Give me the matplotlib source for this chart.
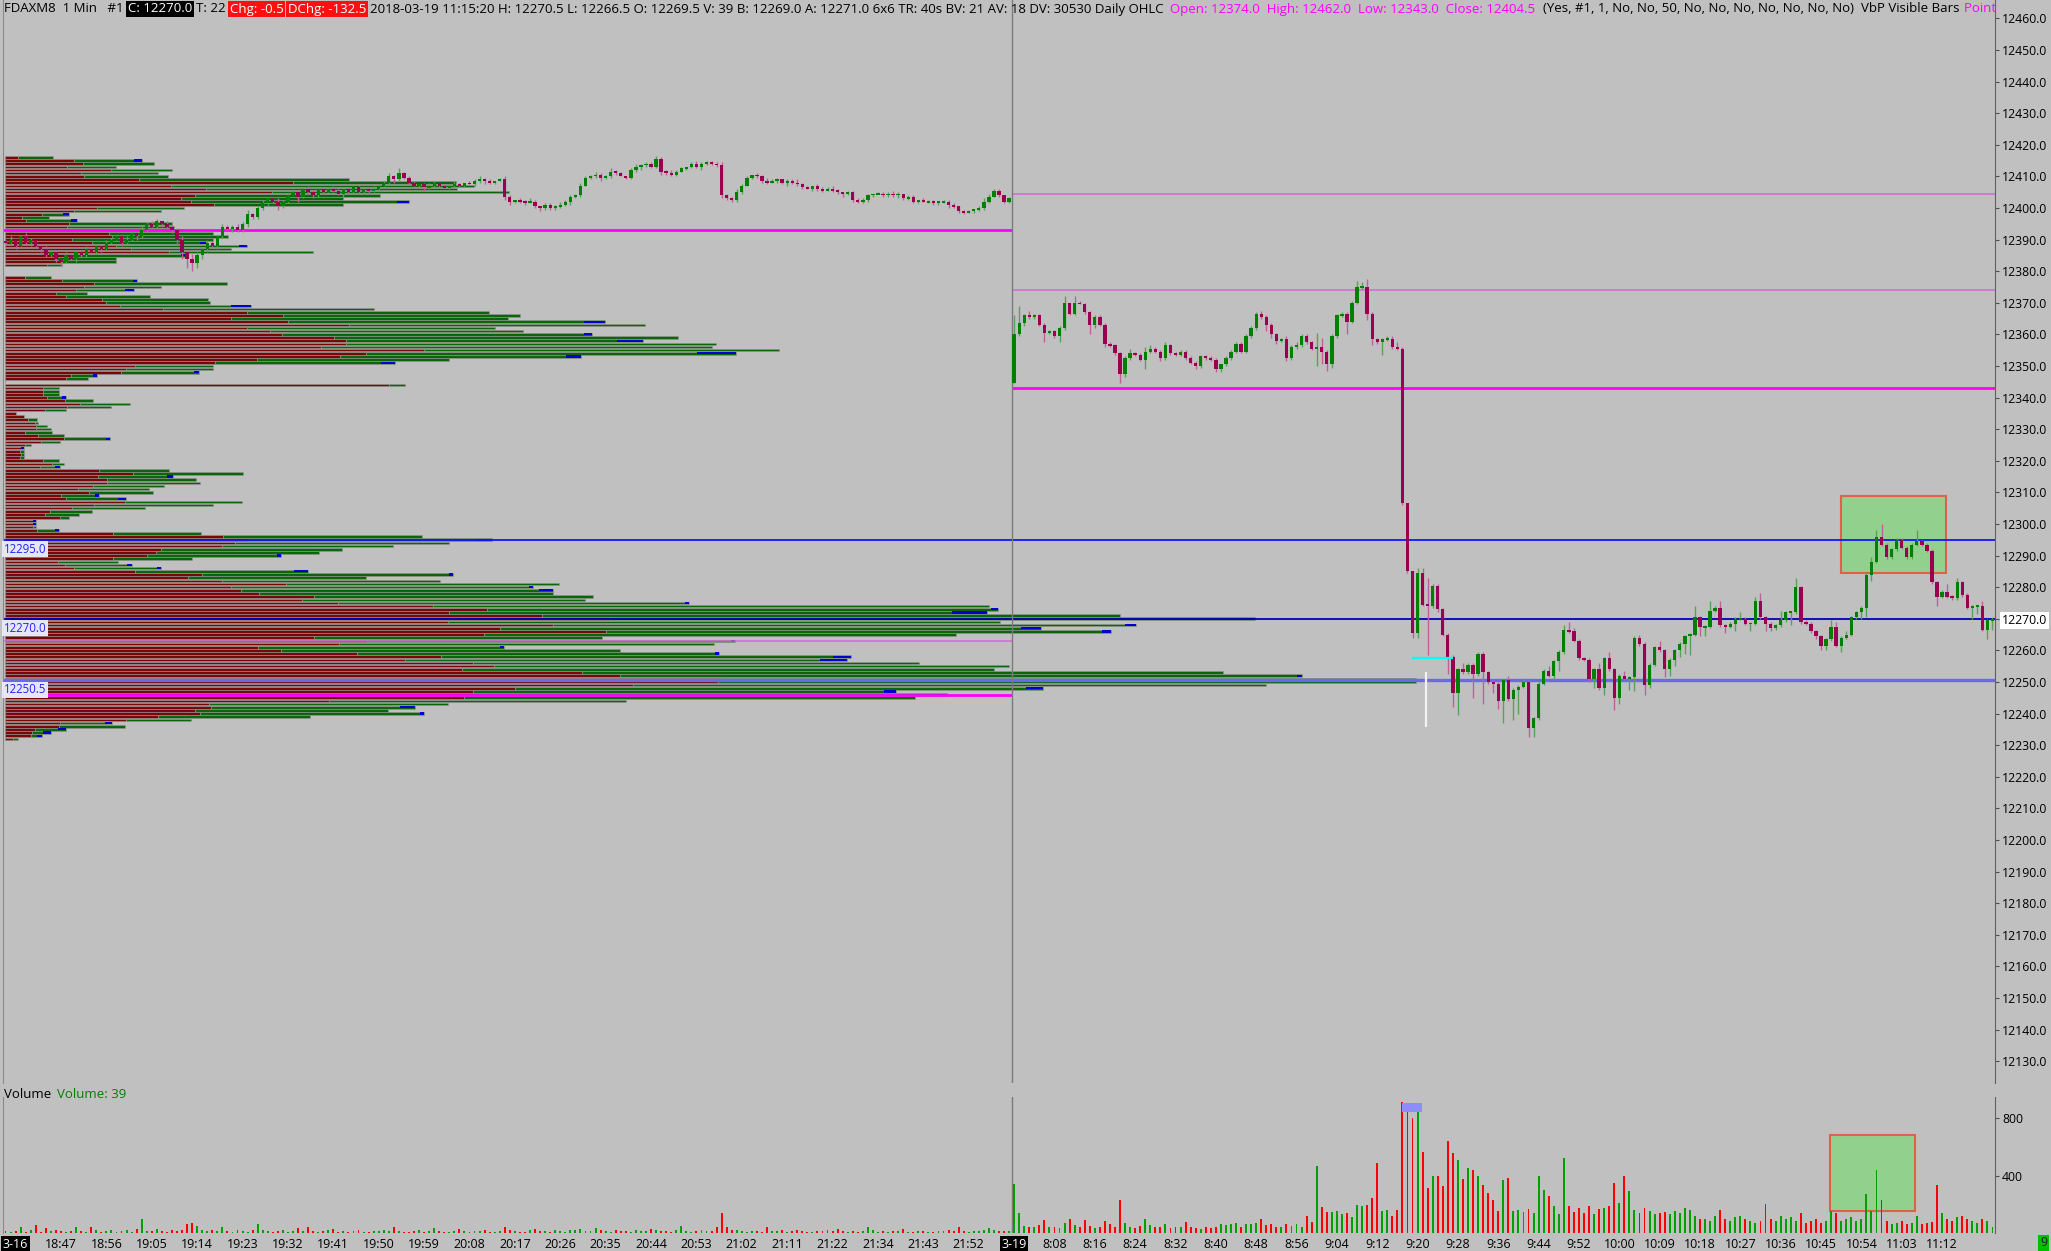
import matplotlib
matplotlib.use('Agg')
import matplotlib.pyplot as plt
from matplotlib.patches import Rectangle
import numpy as np

plt.rcParams['font.family'] = ['Open Sans', 'DejaVu Sans']

BG = '#c0c0c0'
UP_BODY, DN_BODY = '#008000', '#990050'
UP_WICK, DN_WICK = '#5aa05a', '#c0609a'
VOL_UP, VOL_DN = '#00a000', '#ff0000'
FS = 8.8
HEAD_FS = 9.5
TIME_FS = 9.0

# ---- session 1: 3-16 evening, 1 min bars (closes, wicks in 0.5 ticks) ----
s1_open = 12389.5
s1_close = [
    12389, 12390, 12388, 12391, 12389, 12390, 12388,
    12387, 12385, 12386, 12384, 12383, 12385, 12384,
    12386, 12385, 12387, 12386, 12388, 12387,
    12389, 12390, 12391, 12389, 12390, 12392, 12391,
    12393, 12395, 12394, 12396, 12395, 12394, 12393,
    12390, 12386, 12384, 12382.5, 12385,
    12387, 12389, 12388, 12391, 12394,
    12393.5, 12394, 12393, 12395, 12398, 12397,
    12400, 12401.5, 12403, 12402, 12400.5, 12402,
    12404, 12405, 12403.5, 12406, 12405, 12404, 12406,
    12405, 12406, 12405.5, 12404.5, 12406, 12405, 12406.5, 12405, 12406, 12405.5, 12406, 12407,
    12408, 12410, 12409, 12411, 12409.5,
    12408, 12407, 12407.5, 12406.5, 12407, 12408, 12407, 12406.5, 12407, 12407.5, 12407, 12408, 12407.5,
    12408.5, 12409, 12408.5, 12408, 12408.5, 12409,
    12403.5,
    12402, 12402.5, 12402, 12401.5, 12402,
    12400.5, 12400, 12401, 12400, 12400.5, 12401,
    12402, 12403.5, 12404, 12407,
    12409.5, 12410, 12410.5, 12409.5, 12410,
    12411.5, 12411, 12410, 12409.5,
    12412, 12413, 12413.5, 12414, 12413, 12415.5,
    12411.5, 12411, 12410.5, 12411.5,
    12412.5, 12413, 12414, 12413,
    12414, 12414.5, 12414, 12413.5,
    12404, 12403, 12402.5, 12405, 12407,
    12409.5, 12410.5, 12410,
    12408.5, 12408, 12408.5, 12409,
    12408, 12408.5, 12408, 12407.5,
    12406.5, 12406, 12407,
    12406, 12405.5, 12406, 12405.5,
    12405, 12404.5, 12405,
    12402.5, 12402, 12402.5,
    12404, 12404.5,
    12404.5, 12404, 12404.5, 12404, 12404.5,
    12403, 12403.5,
    12402, 12402.5, 12402, 12402, 12401.5, 12402, 12402,
    12401, 12400.5,
    12399, 12398.5, 12399, 12399.5,
    12400, 12402, 12403.5, 12405.5, 12404, 12402, 12403,
]
s1_up = [
    1, 2, 0, 1, 2, 1, 0, 1, 2, 1,  1, 0, 2, 1, 1, 0, 2, 1, 1, 0,
    2, 1, 1, 0, 2, 1, 1, 3, 1, 2,  1, 0, 2, 1, 1, 2, 1, 3, 2, 1,
    2, 1, 0, 2, 1, 1, 2, 1, 3, 1,  1, 2, 1, 0, 2, 1, 1, 2, 1, 1,
    2, 1, 1, 0, 1, 2, 1, 0, 1, 1,  1, 0, 1, 2, 1, 1, 2, 1, 3, 1,
    1, 1, 0, 1, 2, 1, 0, 1, 1, 2,  1, 0, 1, 1, 2, 1, 1, 0, 1, 2,
    1, 0, 1, 1, 2, 1, 0, 1, 1, 1,  2, 1, 1, 1, 2, 1, 1, 2, 1, 1,
    2, 1, 1, 0, 1, 2, 1, 1, 1, 2,  1, 1, 2, 1, 1, 0, 1, 2, 1, 1,
    1, 1, 2, 1, 1, 2, 1, 1, 0, 1,  1, 2, 1, 1, 0, 1, 1, 2, 1, 1,
    0, 1, 1, 1, 2, 1, 0, 1, 1, 1,  1, 1, 0, 1, 1, 1, 2, 1, 0, 1,
    1, 0, 1, 1, 1, 0, 1, 1, 1, 0,  1, 1, 0, 1, 2, 2, 1, 1, 0, 1,
]
s1_dn = [
    1, 1, 2, 0, 1, 2, 1, 2, 1, 1,  2, 3, 1, 1, 2, 1, 1, 0, 1, 2,
    1, 1, 0, 2, 1, 1, 2, 1, 1, 0,  1, 2, 1, 2, 3, 4, 6, 5, 3, 2,
    2, 1, 2, 1, 1, 2, 1, 1, 2, 1,  1, 1, 2, 1, 2, 1, 1, 0, 3, 1,
    1, 2, 1, 1, 0, 1, 1, 2, 1, 1,  1, 1, 2, 1, 1, 0, 1, 2, 1, 1,
    1, 0, 1, 2, 1, 1, 1, 0, 1, 1,  1, 1, 0, 1, 1, 2, 1, 1, 0, 2,
    2, 1, 1, 1, 0, 1, 2, 1, 1, 1,  1, 1, 2, 1, 1, 0, 1, 1, 2, 1,
    1, 1, 0, 1, 1, 1, 2, 1, 1, 1,  2, 1, 1, 1, 0, 1, 1, 1, 2, 1,
    1, 1, 2, 1, 1, 1, 1, 0, 1, 1,  1, 1, 0, 1, 1, 2, 1, 1, 1, 0,
    1, 1, 1, 0, 1, 1, 2, 1, 1, 1,  1, 1, 1, 0, 1, 1, 1, 2, 1, 1,
    1, 1, 0, 1, 1, 1, 1, 2, 1, 1,  1, 0, 1, 1, 1, 1, 0, 1, 1, 1,
]
vol_s1 = [
    12, 8, 15, 40, 10, 18, 55, 9, 35, 14,   20, 11, 7, 16, 45, 12, 9, 40, 18, 10,
    14, 22, 9, 13, 18, 10, 25, 95, 16, 12,  30, 15, 10, 20, 14, 24, 65, 70, 50, 18,
    12, 20, 15, 40, 11, 9, 22, 14, 10, 18,  65, 20, 12, 9, 15, 24, 10, 14, 35, 11,
    40, 16, 9, 12, 20, 30, 8, 14, 10, 12,   18, 9, 7, 15, 11, 20, 14, 45, 12, 8,
    10, 16, 22, 9, 12, 35, 14, 10, 8, 15,   30, 12, 9, 14, 11, 18, 10, 8, 16, 45,
    20, 14, 10, 9, 18, 30, 12, 16, 9, 22,   14, 10, 24, 18, 28, 16, 12, 35, 20, 14,
    10, 18, 12, 16, 9, 20, 14, 11, 30, 22,  15, 12, 9, 18, 50, 14, 10, 12, 20, 16,
    12, 40, 140, 45, 18, 22, 15, 10, 14, 12, 9, 45, 16, 11, 20, 8, 12, 18, 14, 10,
    9, 15, 12, 20, 11, 30, 14, 10, 16, 9,   12, 45, 18, 10, 14, 9, 12, 16, 25, 10,
    8, 12, 15, 10, 9, 14, 11, 18, 12, 40,   16, 10, 14, 12, 20, 35, 18, 11, 14, 16,
]

# ---- session 2: 3-19 day session ----
s2_open = 12344.5
s2_close = [
    12360, 12363.5, 12366, 12365.5, 12366, 12363, 12360.5, 12361, 12359.5, 12362,
    12370, 12366.5, 12370, 12369.5, 12367, 12363, 12365.5, 12363, 12357, 12356.5,
    12354, 12347.5, 12352.5, 12354, 12353.5, 12352, 12354.5, 12355.5, 12354.5, 12352.5,
    12356.5, 12354, 12353.5, 12354.5, 12352.5, 12351, 12350, 12353, 12352.5, 12352,
    12349, 12350.5, 12352.5, 12354.5, 12357, 12354.5, 12359.5, 12362, 12366.5, 12365.5,
    12363, 12360, 12358, 12358.5, 12352.5, 12356, 12356.5, 12359.5, 12357.5, 12355.5,
    12356, 12354.5, 12350.5, 12359.5, 12366, 12366.5, 12364, 12370, 12375, 12375,
    12366.5, 12358.5, 12357.5, 12358.5, 12358.5, 12356, 12355.5, 12306.5, 12285, 12265.5,
    12284.5, 12274.5, 12274, 12280.5, 12273, 12265, 12258, 12246.5, 12254, 12253,
    12255.5, 12252.5, 12259, 12253, 12250, 12249.5, 12244, 12250.5, 12244.5, 12247.5,
    12248.5, 12250, 12235.5, 12238.5, 12249.5, 12253.5, 12252, 12256.5, 12259.5, 12266.5,
    12266, 12263, 12257.5, 12257, 12251, 12254, 12248, 12257.5, 12254, 12245,
    12252, 12251, 12251.5, 12264, 12262, 12249, 12255.5, 12261, 12260, 12254,
    12257, 12260, 12262, 12264.5, 12265, 12270.5, 12267.5, 12267.5, 12272.5, 12273.5,
    12268, 12267.5, 12268.5, 12270, 12270, 12268.5, 12268.5, 12275.5, 12270.5, 12268.5,
    12267, 12268, 12269.5, 12272, 12272, 12280, 12269, 12268.5, 12266, 12264.5,
    12261.5, 12263.5, 12267.5, 12261.5, 12264, 12265, 12270.5, 12272, 12273.5, 12284,
    12288, 12296, 12293.5, 12289.5, 12292, 12295, 12292.5, 12289.5, 12293.5, 12294.5,
    12293.5, 12291.5, 12281.5, 12277, 12278.5, 12277, 12276.5, 12281.5, 12277.5, 12273.5,
    12274, 12274, 12266.5, 12269.5, 12270,
]
s2_up = [
    12, 11, 1, 3, 1, 1, 1, 1, 1, 1,  4, 0, 4, 1, 1, 1, 1, 1, 1, 1,
    1, 1, 1, 3, 1, 1, 3, 2, 1, 1,    2, 1, 1, 1, 1, 1, 1, 1, 1, 1,
    1, 0, 1, 1, 1, 1, 1, 1, 1, 2,    1, 1, 1, 1, 2, 1, 2, 1, 1, 1,
    9, 6, 1, 1, 1, 1, 1, 1, 4, 3,    5, 1, 1, 1, 2, 2, 3, 1, 0, 0,
    3, 3, 17, 1, 1, 1, 1, 1, 1, 4,   1, 1, 1, 1, 1, 1, 1, 1, 3, 1,
    1, 2, 1, 1, 1, 1, 3, 1, 1, 3,    5, 2, 1, 1, 1, 1, 4, 1, 4, 1,
    1, 3, 1, 1, 2, 1, 1, 1, 4, 1,    1, 1, 1, 1, 1, 7, 1, 1, 6, 1,
    4, 1, 1, 1, 4, 1, 1, 3, 5, 1,    1, 1, 6, 1, 1, 6, 1, 1, 1, 1,
    1, 1, 4, 3, 1, 2, 1, 1, 1, 1,    3, 4, 8, 1, 1, 1, 1, 1, 1, 7,
    1, 1, 1, 1, 1, 5, 1, 3, 1, 1,    1, 1, 3, 1, 1,
]
s2_dn = [
    0, 1, 2, 1, 1, 1, 6, 1, 1, 4,    1, 1, 1, 0, 1, 6, 2, 1, 2, 1,
    1, 6, 2, 1, 1, 1, 6, 1, 1, 2,    1, 1, 1, 1, 1, 1, 2, 1, 1, 1,
    2, 2, 1, 1, 1, 1, 1, 1, 1, 1,    4, 2, 2, 1, 2, 1, 1, 1, 1, 1,
    11, 8, 4, 2, 1, 1, 8, 1, 1, 1,   4, 4, 1, 8, 1, 1, 1, 1, 1, 3,
    3, 1, 31, 1, 2, 1, 11, 9, 14, 1, 1, 15, 1, 20, 1, 6, 5, 14, 1, 13,
    15, 1, 6, 6, 1, 1, 1, 2, 6, 1,   1, 1, 1, 1, 2, 6, 1, 4, 1, 8,
    4, 1, 7, 9, 1, 6, 2, 1, 1, 5,    4, 4, 4, 6, 12, 1, 6, 6, 1, 1,
    1, 4, 1, 5, 1, 1, 5, 1, 1, 5,    2, 1, 1, 1, 8, 1, 1, 1, 1, 2,
    3, 3, 1, 1, 4, 1, 1, 1, 4, 6,    4, 1, 1, 1, 1, 1, 1, 1, 1, 1,
    1, 1, 1, 6, 1, 1, 1, 1, 1, 1,    7, 5, 1, 6, 6,
]
vol_s2 = [
    345, 140, 50, 45, 40, 55, 88, 40, 45, 35,    70, 95, 55, 40, 90, 50, 35, 45, 83, 60,
    45, 234, 67, 40, 35, 50, 95, 55, 40, 45,     60, 35, 40, 45, 76, 40, 35, 30, 40, 35,
    45, 60, 55, 65, 70, 45, 60, 65, 70, 100,     55, 60, 45, 40, 65, 50, 60, 45, 118, 80,
    470, 180, 148, 148, 153, 130, 140, 110, 199, 192,  199, 245, 489, 153, 164, 120, 164, 918, 860, 802,
    895, 563, 315, 396, 396, 326, 644, 558, 512, 380,  454, 442, 396, 338, 280, 234, 153, 373, 384, 153,
    160, 150, 165, 140, 396, 303, 257, 187, 130, 523,  187, 150, 175, 140, 187, 130, 165, 175, 190, 350,
    210, 401, 292, 164, 140, 175, 153, 130, 140, 150,  130, 153, 140, 175, 164, 120, 95, 95, 83, 120,
    164, 95, 83, 110, 120, 95, 83, 72, 83, 203,        95, 83, 120, 95, 110, 83, 140, 72, 83, 95,
    72, 83, 153, 140, 83, 95, 110, 83, 95, 269,        153, 442, 234, 83, 60, 72, 83, 65, 72, 118,
    60, 72, 80, 338, 140, 95, 83, 110, 120, 95,        83, 72, 95, 83, 39,
]

time_labels_s1 = ['3-16', '18:47', '18:56', '19:05', '19:14', '19:23', '19:32', '19:41',
                  '19:50', '19:59', '20:08', '20:17', '20:26', '20:35', '20:44', '20:53',
                  '21:02', '21:11', '21:22', '21:34', '21:43', '21:52']
time_labels_s2 = ['3-19', '8:08', '8:16', '8:24', '8:32', '8:40', '8:48', '8:56', '9:04',
                  '9:12', '9:20', '9:28', '9:36', '9:44', '9:52', '10:00', '10:09', '10:18',
                  '10:27', '10:36', '10:45', '10:54', '11:03', '11:12']

# ---- volume by price (visible bars): bid volume and total volume per 1pt level ----
vbp_top_levels = np.arange(12416, 12381, -1)
vbp_top_bid = [13, 69, 78, 62, 106, 76, 79, 134, 288, 166, 201, 267, 190, 176, 186, 209, 92, 69,
               37, 17, 21, 64, 62, 74, 104, 107, 67, 87, 111, 126, 164, 65, 50, 57, 42]
vbp_top_total = [48, 137, 149, 111, 167, 153, 163, 344, 451, 469, 452, 504, 375, 338, 404, 338, 179,
                 156, 64, 44, 72, 167, 169, 177, 208, 223, 208, 201, 242, 226, 308, 182, 111, 111, 57]
vbp_low_levels = np.arange(12378, 12231, -1)
vbp_low_bid = [
    20, 57, 89, 79, 71, 51, 61, 97, 101, 115, 158, 242, 278, 226, 283, 344, 242, 265, 277, 329,
    341, 341, 316, 419, 361, 335, 252, 210, 130, 121, 116, 66, 61, 0, 384, 38, 38, 38, 42, 60,
    75, 62, 40, 11, 19, 23, 30, 31, 31, 20, 33, 59, 36, 20, 18, 15, 16, 15, 38, 47,
    35, 94, 128, 93, 102, 102, 88, 73, 84, 56, 61, 120, 89, 67, 45, 40, 55, 28, 28, 28,
    32, 108, 218, 244, 230, 217, 156, 151, 142, 108, 53, 60, 69, 130, 197, 183, 217, 281, 226, 236,
    254, 309, 297, 333, 428, 482, 444, 537, 605, 443, 548, 495, 601, 479, 309, 362, 334, 253, 276, 352,
    436, 400, 468, 489, 457, 577, 615, 717, 713, 628, 510, 468, 476, 459, 324, 204, 206, 190, 195, 153,
    121, 55, 54, 30, 27, 26, 8,
]
vbp_low_total = [
    46, 132, 222, 156, 129, 82, 145, 203, 205, 246, 369, 484, 515, 503, 600, 640, 490, 518, 587, 673,
    638, 711, 707, 774, 731, 576, 444, 390, 208, 208, 194, 92, 83, 0, 400, 54, 54, 54, 61, 88,
    125, 106, 61, 11, 19, 32, 33, 42, 46, 47, 59, 105, 55, 26, 19, 19, 19, 19, 54, 59,
    55, 164, 238, 168, 191, 195, 159, 144, 148, 94, 121, 237, 208, 140, 87, 74, 64, 31, 31, 31,
    54, 196, 417, 487, 444, 388, 337, 314, 276, 187, 113, 127, 156, 303, 448, 361, 435, 554, 528, 548,
    548, 588, 580, 684, 984, 993, 982, 1115, 1250, 995, 1131, 1036, 1106, 951, 597, 730, 709, 499, 615, 714,
    846, 842, 914, 1004, 989, 1218, 1297, 1411, 1411, 1261, 1038, 891, 942, 910, 621, 443, 410, 383, 419, 305,
    186, 107, 120, 61, 46, 37, 13,
]
vbp_blue_levels = [12415, 12402, 12398, 12396, 12389, 12388, 12385, 12377, 12374, 12369, 12364, 12360,
                   12358, 12354, 12353, 12351, 12348, 12347, 12340, 12327, 12324, 12318, 12315, 12309,
                   12308, 12301, 12300, 12298, 12295, 12290, 12287, 12286, 12285, 12284, 12280, 12279,
                   12275, 12273, 12272, 12268, 12267, 12266, 12263, 12261, 12259, 12258, 12257, 12252,
                   12248, 12247, 12246, 12242, 12240, 12237, 12235, 12234, 12233]
vbp_blue_len = [8, 12, 6, 6, 6, 8, 6, 4, 9, 20, 21, 8, 26, 39, 15, 14, 5, 4, 4, 4, 3, 5, 6, 4, 8,
                3, 3, 4, 15, 4, 5, 4, 14, 4, 4, 14, 4, 7, 35, 11, 20, 9, 4, 4, 4, 18, 27, 5, 17, 12,
                7, 15, 4, 7, 8, 8, 5]

# reference lines
s1_magenta_thick = [12393, 12246]
s1_magenta_thin = [12263]
daily_ohlc = {'Open': 12374.0, 'High': 12462.0, 'Low': 12343.0, 'Close': 12404.5}
blue_levels = [12295.0, 12270.0, 12250.5]
blue_colors = ['#1414ff', '#0000b4', '#6a6ae8']
blue_widths = [1.3, 1.3, 2.4]
last_price = 12270.0

# highlight boxes (bar index, price / volume)
price_box = (363.9, 12284.4, 20.9, 24.4)
vol_box = (361.8, 153, 16.9, 533)
vol_marker = (276.9, 844, 3.9, 62)


def ohlc(first_open, closes, up, dn):
    c = np.array(closes, float)
    o = np.r_[first_open, c[:-1]]
    h = np.maximum(o, c) + 0.5 * np.array(up)
    lo = np.minimum(o, c) - 0.5 * np.array(dn)
    return o, h, lo, c


o1, h1, l1, c1 = ohlc(s1_open, s1_close, s1_up, s1_dn)
o2, h2, l2, c2 = ohlc(s2_open, s2_close, s2_up, s2_dn)
opens = np.r_[o1, o2]
highs = np.r_[h1, h2]
lows = np.r_[l1, l2]
closes = np.r_[c1, c2]
vols = np.array(vol_s1 + vol_s2, float)
n1 = len(c1)
nbar = len(closes)
xs = np.arange(nbar)
rising = closes >= opens
split = n1 - 0.4

fig = plt.figure(figsize=(20.51, 12.51), dpi=100, facecolor=BG)
L, W = 3 / 2051, 1992 / 2051
ax_vol = fig.add_axes([L, 1 - 1233 / 1251, W, 136 / 1251])
ax_prof = fig.add_axes([L, 1 - 1083 / 1251, W, 1083 / 1251])
ax_price = fig.add_axes([L, 1 - 1083 / 1251, W, 1083 / 1251], sharex=ax_vol, sharey=ax_prof)
for a in (ax_vol, ax_prof, ax_price):
    a.patch.set_visible(False)
ax_prof.set_zorder(0)
ax_price.set_zorder(1)

# ---- volume profile ----
ax_prof.set_xlim(-2, 1990)
for lv, bid, tot in ((vbp_top_levels, vbp_top_bid, vbp_top_total),
                     (vbp_low_levels, vbp_low_bid, vbp_low_total)):
    bid = np.array(bid, float)
    tot = np.array(tot, float)
    ax_prof.barh(lv, bid, height=0.82, color='#780808', edgecolor='#969696', lw=0.4)
    ax_prof.barh(lv, tot - bid, left=bid, height=0.82, color='#0b650b', edgecolor='#969696', lw=0.4)
prof_total = dict(zip(np.r_[vbp_top_levels, vbp_low_levels], vbp_top_total + vbp_low_total))
blue_left = [prof_total[v] - b for v, b in zip(vbp_blue_levels, vbp_blue_len)]
ax_prof.barh(vbp_blue_levels, vbp_blue_len, left=blue_left, height=0.7, color='#0000d2', lw=0)
ax_prof.axis('off')

# ---- price panel ----
ax_price.set_xlim(-0.5, nbar - 0.5)
ax_price.set_ylim(12123.1, 12465.8)

ax_price.add_patch(Rectangle(price_box[:2], price_box[2], price_box[3], fc='#92d08e',
                             ec='#e0604c', lw=1.5, zorder=1))
ax_price.hlines(s1_magenta_thick, -0.5, split, color='#ff00ff', lw=2, zorder=2)
ax_price.hlines(s1_magenta_thin, -0.5, split, color='#d468d4', lw=1.1, zorder=2)
ax_price.hlines([daily_ohlc['Close'], daily_ohlc['Open']], split, nbar - 0.5,
                color='#d468d4', lw=1.1, zorder=2)
ax_price.hlines([daily_ohlc['Low']], split, nbar - 0.5, color='#ff00ff', lw=2, zorder=2)
for lv, col, lw in zip(blue_levels, blue_colors, blue_widths):
    ax_price.axhline(lv, color=col, lw=lw, zorder=2)
    ax_price.text(-0.3, lv - 0.9, f'{lv:.1f}', color='#2323ff', fontsize=8.3, va='top', ha='left',
                  bbox=dict(boxstyle='square,pad=0.15', fc='#e6e6f4', ec='none'), zorder=6)
ax_price.axvline(split, color='#7a7a7a', lw=1, zorder=2)

# small markers in the 9:20 selloff
ax_price.hlines(12257.5, 278.8, 287, color='#00ffff', lw=1.6, zorder=5)
ax_price.vlines(281.7, 12235.8, 12253, color='#f2f2f2', lw=1.6, zorder=5)

ax_price.vlines(xs, lows, highs, colors=np.where(rising, UP_WICK, DN_WICK), lw=1.0, zorder=3)
body = np.abs(closes - opens)
bh = np.maximum(body, 0.6)
bb = np.minimum(opens, closes) - (bh - body) / 2
ax_price.bar(xs, bh, bottom=bb, width=0.66, color=np.where(rising, UP_BODY, DN_BODY), lw=0, zorder=4)

ax_price.yaxis.tick_right()
yt = np.arange(12130, 12461, 10)
ax_price.set_yticks(yt)
ax_price.set_yticklabels([f'{v:.1f}' for v in yt])
ax_price.tick_params(axis='y', length=3, width=0.8, color='#505050', pad=2, labelsize=FS,
                     labelcolor='black')
ax_price.tick_params(axis='x', bottom=False, labelbottom=False)
for lab, v in zip(ax_price.get_yticklabels(), yt):
    if v == last_price:
        lab.set_bbox(dict(boxstyle='square,pad=0.15', fc='white', ec='none'))
for side in ('top', 'bottom'):
    ax_price.spines[side].set_visible(False)
ax_price.spines['right'].set_color('#606060')
ax_price.spines['left'].set_color('#8a8a8a')

# ---- volume panel ----
ax_vol.set_ylim(0, 950)
ax_vol.add_patch(Rectangle(vol_box[:2], vol_box[2], vol_box[3], fc='#92d08e', ec='#e0604c',
                           lw=1.5, zorder=1))
ax_vol.bar(xs, vols, width=0.38, color=np.where(rising, VOL_UP, VOL_DN), lw=0, zorder=3)
ax_vol.add_patch(Rectangle(vol_marker[:2], vol_marker[2], vol_marker[3], fc='#8c8cff', ec='none',
                           zorder=4))
ax_vol.axvline(split, color='#7a7a7a', lw=1, zorder=2)
ax_vol.yaxis.tick_right()
ax_vol.set_yticks([400, 800])
ax_vol.set_yticklabels(['400', '800'])
ax_vol.tick_params(axis='y', length=3, width=0.8, color='#505050', pad=2, labelsize=FS)
for side in ('top', 'bottom'):
    ax_vol.spines[side].set_visible(False)
ax_vol.spines['right'].set_color('#606060')
ax_vol.spines['left'].set_color('#8a8a8a')

pos1 = [n1 - 9 * (len(time_labels_s1) - k) for k in range(len(time_labels_s1))]
pos2 = [n1 + 8 * k for k in range(len(time_labels_s2))]
ax_vol.set_xticks(pos1 + pos2)
ax_vol.set_xticklabels(time_labels_s1 + time_labels_s2)
ax_vol.tick_params(axis='x', length=0, pad=3.5, labelsize=TIME_FS, labelcolor='black')
for lab in ax_vol.get_xticklabels():
    if '-' in lab.get_text():
        lab.set_color('white')
        lab.set_bbox(dict(boxstyle='square,pad=0.12', fc='black', ec='none'))

# ---- header line ----
header = [
    ('FDAXM8  1 Min   #1', 'black', None, 0),
    ('C: 12270.0', 'white', 'black', 3),
    ('T: 22', 'black', None, 3),
    ('Chg: -0.5', 'white', '#ff1010', 3),
    ('DChg: -132.5', 'white', '#ff1010', 3),
    ('2018-03-19 11:15:20 H: 12270.5 L: 12266.5 O: 12269.5 V: 39 B: 12269.0 A: 12271.0 '
     '6x6 TR: 40s BV: 21 AV: 18 DV: 30530 Daily OHLC', 'black', None, 3),
    ('Open: {:.1f}  High: {:.1f}  Low: {:.1f}  Close: {:.1f}'.format(
        daily_ohlc['Open'], daily_ohlc['High'], daily_ohlc['Low'], daily_ohlc['Close']),
     '#ff00ff', None, 4),
    ('(Yes, #1, 1, No, No, 50, No, No, No, No, No, No, No)  VbP Visible Bars', 'black', None, 6),
    ('Point of', '#ff00ff', None, 3),
]


def chain(pieces, x0, y0, size):
    prev = None
    for txt, col, bg, gap in pieces:
        kw = dict(color=col, fontsize=size, va='center', ha='left', zorder=10)
        if bg:
            kw['bbox'] = dict(boxstyle='square,pad=0.12', fc=bg, ec='none')
        if prev is None:
            t = fig.text(x0, y0, txt, **kw)
        else:
            t = ax_price.annotate(txt, xy=(1, 0.5), xycoords=prev, xytext=(gap, 0),
                                  textcoords='offset points', annotation_clip=False, **kw)
        prev = t
    return prev


last = chain(header, 4 / 2051, 1 - 9 / 1251, HEAD_FS)
last.set_clip_on(True)
last.set_clip_box(ax_price.bbox)

chain([('Volume', 'black', None, 0), ('Volume: 39', '#008000', None, 4)],
      4 / 2051, 1 - 1094 / 1251, HEAD_FS)

fig.text(2040 / 2051, 1 - 1243 / 1251, '9', fontsize=FS, color='#202020', va='center',
         bbox=dict(boxstyle='square,pad=0.15', fc='#00c000', ec='none'))

fig.savefig('out.png', dpi=100, facecolor=BG)
